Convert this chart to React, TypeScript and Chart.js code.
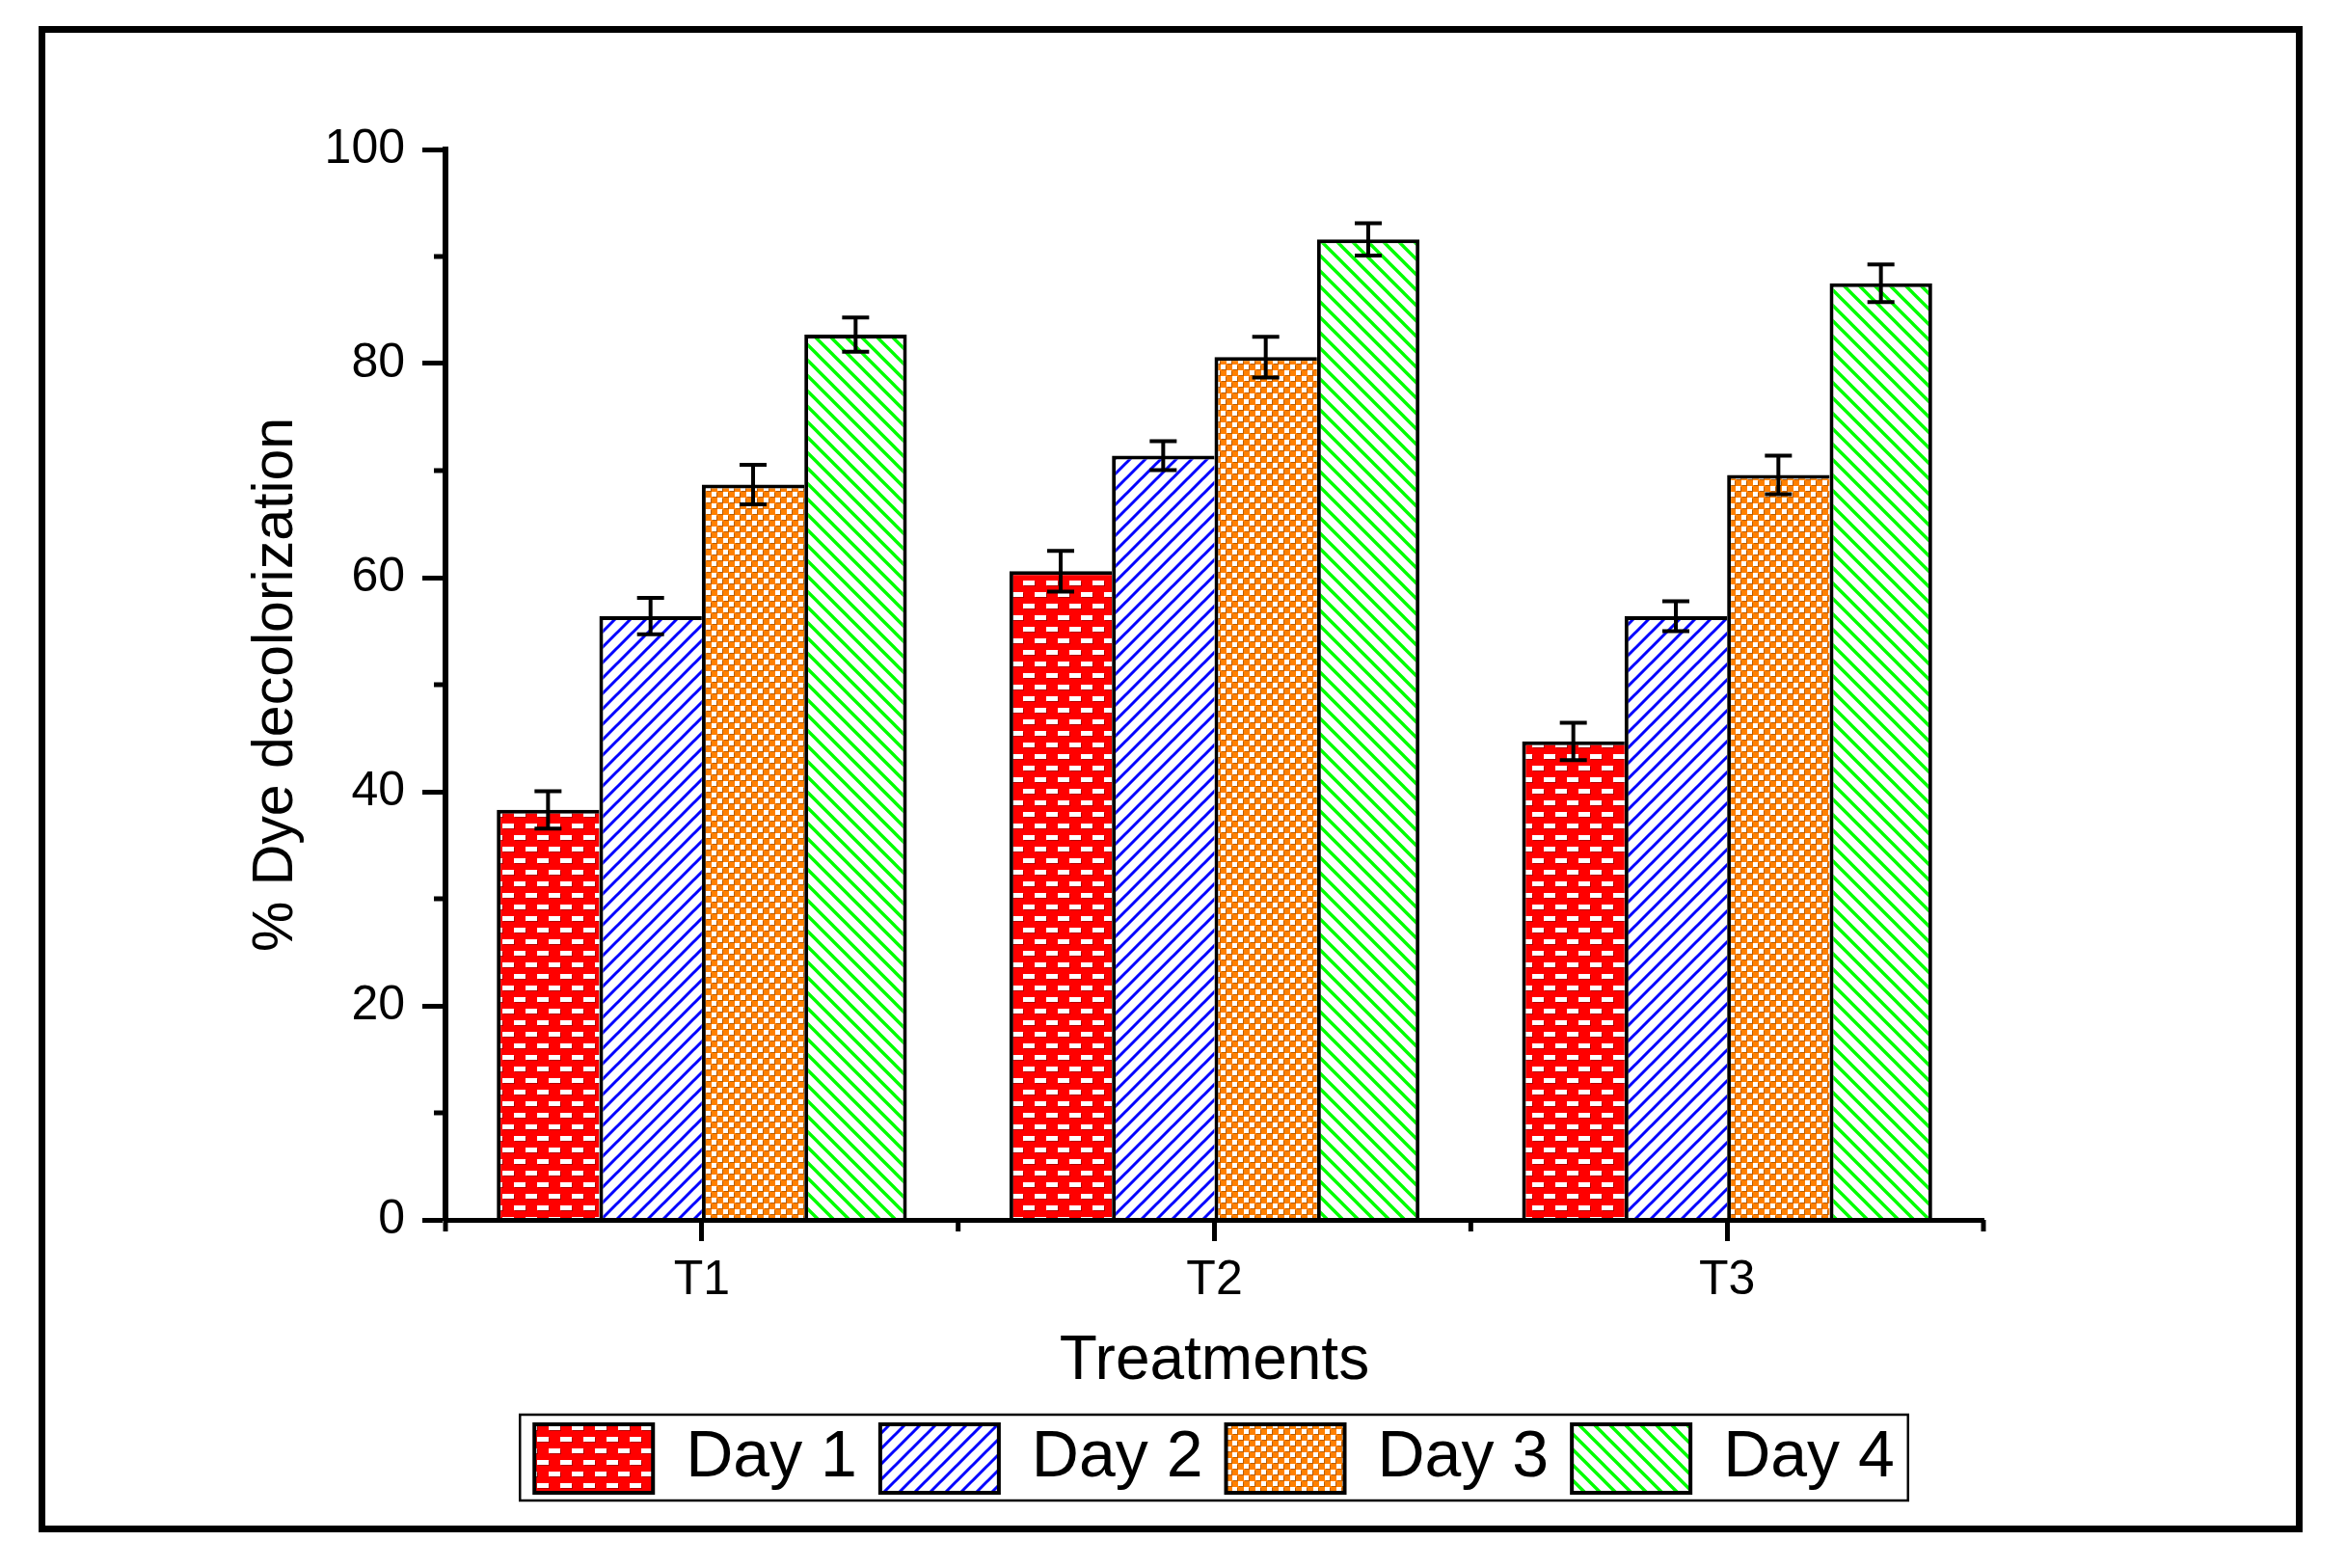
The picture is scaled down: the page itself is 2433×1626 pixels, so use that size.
import React, { useEffect, useRef } from 'react';
import { Chart, registerables } from 'chart.js';

Chart.register(...registerables);

const categories = ['T1', 'T2', 'T3'];
const seriesLabels = ['Day 1', 'Day 2', 'Day 3', 'Day 4'];
const day1 = [38.3, 60.6, 44.7];
const day2 = [56.4, 71.4, 56.4];
const day3 = [68.7, 80.6, 69.6];
const day4 = [82.7, 91.6, 87.5];
const err1 = [1.75, 1.9, 1.75];
const err2 = [1.7, 1.35, 1.4];
const err3 = [1.85, 1.9, 1.8];
const err4 = [1.6, 1.5, 1.75];
const yMin = 0;
const yMax = 100;
const yMajorStep = 20;
const yMinorValues = [10, 30, 50, 70, 90];

const FONT = "'Liberation Sans', Arial, Helvetica, sans-serif";

function makePattern(kind: string): CanvasPattern | string {
  const c = document.createElement('canvas');
  const g = c.getContext('2d');
  if (!g) return '#888';
  if (kind === 'brick') {
    c.width = 24; c.height = 24;
    g.fillStyle = '#FF0000';
    g.fillRect(0, 0, 24, 24);
    const dash = (x: number, y: number) => {
      g.fillStyle = '#B00000';
      g.fillRect(x + 1, y + 1, 12, 5);
      g.fillStyle = '#FFFFFF';
      g.fillRect(x, y, 12, 5);
    };
    dash(5, 2); dash(17, 14); dash(-7, 14);
  } else if (kind === 'up' || kind === 'down') {
    c.width = 16; c.height = 16;
    g.fillStyle = '#FFFFFF';
    g.fillRect(0, 0, 16, 16);
    g.strokeStyle = kind === 'up' ? '#0000FF' : '#00FF00';
    g.lineWidth = kind === 'up' ? 3 : 3.4;
    g.beginPath();
    for (const k of [-16, 0, 16]) {
      if (kind === 'up') { g.moveTo(k - 2, 18); g.lineTo(k + 18, -2); }
      else { g.moveTo(k - 2, -2); g.lineTo(k + 18, 18); }
    }
    g.stroke();
  } else {
    c.width = 12; c.height = 12;
    g.fillStyle = '#FF8000';
    g.fillRect(0, 0, 12, 12);
    const sq = (x: number, y: number) => {
      g.fillStyle = '#B85C00';
      g.fillRect(x + 1, y + 1, 5, 5);
      g.fillStyle = '#FFFFFF';
      g.fillRect(x, y, 5, 5);
    };
    sq(0, 0); sq(6, 6);
  }
  return g.createPattern(c, 'repeat') || '#888';
}

const errorBarPlugin = {
  id: 'errorBars',
  afterDatasetsDraw(chart: any) {
    const ctx = chart.ctx;
    const y = chart.scales.y;
    ctx.save();
    ctx.strokeStyle = '#000';
    ctx.lineWidth = 4;
    chart.data.datasets.forEach((ds: any, di: number) => {
      const meta = chart.getDatasetMeta(di);
      meta.data.forEach((bar: any, i: number) => {
        const v = ds.data[i];
        const e = ds.errors[i];
        const x = bar.x;
        const yt = y.getPixelForValue(v + e);
        const yb = y.getPixelForValue(v - e);
        const cap = 14;
        ctx.beginPath();
        ctx.moveTo(x, yt); ctx.lineTo(x, yb);
        ctx.moveTo(x - cap, yt); ctx.lineTo(x + cap, yt);
        ctx.moveTo(x - cap, yb); ctx.lineTo(x + cap, yb);
        ctx.stroke();
      });
    });
    ctx.restore();
  },
};

const decorPlugin = {
  id: 'decor',
  afterDraw(chart: any) {
    const { ctx, chartArea } = chart;
    const x = chart.scales.x;
    const y = chart.scales.y;
    ctx.save();
    ctx.strokeStyle = '#000';
    ctx.lineWidth = 5;
    yMinorValues.forEach((v) => {
      const py = y.getPixelForValue(v);
      ctx.beginPath();
      ctx.moveTo(chartArea.left - 12, py);
      ctx.lineTo(chartArea.left, py);
      ctx.stroke();
    });
    const bounds: number[] = [x.left];
    for (let i = 0; i < categories.length - 1; i++) {
      bounds.push((x.getPixelForValue(i) + x.getPixelForValue(i + 1)) / 2);
    }
    bounds.push(x.right);
    bounds.forEach((px) => {
      ctx.beginPath();
      ctx.moveTo(px, chartArea.bottom);
      ctx.lineTo(px, chartArea.bottom + 12);
      ctx.stroke();
    });
    // legend border
    const lg = chart.legend;
    if (lg && lg.legendHitBoxes && lg.legendHitBoxes.length) {
      const hb = lg.legendHitBoxes;
      const first = hb[0];
      const last = hb[hb.length - 1];
      const left = first.left - 15;
      const right = last.left + last.width + 14;
      const top = first.top - 10;
      const bottom = first.top + first.height + 8;
      ctx.lineWidth = 2.5;
      ctx.strokeRect(left, top, right - left, bottom - top);
    }
    ctx.restore();
  },
};

export default function App() {
  const ref = useRef<HTMLCanvasElement | null>(null);

  useEffect(() => {
    if (!ref.current) return;
    Chart.defaults.font.family = FONT;
    Chart.defaults.color = '#000';
    const fills = [makePattern('brick'), makePattern('up'), makePattern('check'), makePattern('down')];
    const values = [day1, day2, day3, day4];
    const errs = [err1, err2, err3, err4];
    const datasets = seriesLabels.map((label, i) => ({
      label,
      data: values[i],
      errors: errs[i],
      backgroundColor: fills[i],
      borderColor: '#000',
      borderWidth: { top: 4, left: 4, right: i === seriesLabels.length - 1 ? 4 : 0, bottom: 0 },
      borderSkipped: false,
      categoryPercentage: 0.8,
      barPercentage: 1.0,
    }));

    const chart = new Chart(ref.current, {
      type: 'bar',
      data: { labels: categories, datasets: datasets as any },
      plugins: [errorBarPlugin, decorPlugin],
      options: {
        animation: false,
        responsive: false,
        devicePixelRatio: 1,
        layout: { padding: { left: 257.6, right: 376, top: 155, bottom: 68 } },
        plugins: {
          tooltip: { enabled: false },
          legend: {
            position: 'bottom',
            fullSize: false,
            labels: {
              boxWidth: 123,
              boxHeight: 71,
              padding: 24,
              color: '#000',
              font: { size: 68, family: FONT },
              generateLabels: (ch: any) =>
                (Chart.defaults.plugins.legend.labels as any)
                  .generateLabels(ch)
                  .map((l: any) => ({ ...l, lineWidth: 4, strokeStyle: '#000' })),
            },
          },
        },
        scales: {
          x: {
            type: 'category',
            offset: true,
            grid: { offset: false, drawOnChartArea: false, tickLength: 22, tickWidth: 5, tickColor: '#000' },
            border: { display: true, width: 5, color: '#000', z: 1 },
            ticks: { padding: 11, color: '#000', font: { size: 50, family: FONT } },
            title: {
              display: true,
              text: 'Treatments',
              color: '#000',
              font: { size: 64, family: FONT, lineHeight: 1 },
              padding: { top: 11, bottom: 9 },
            },
          },
          y: {
            type: 'linear',
            min: yMin,
            max: yMax,
            grid: { drawOnChartArea: false, tickLength: 24, tickWidth: 5, tickColor: '#000' },
            border: { display: true, width: 6, color: '#000', z: 1 },
            ticks: { stepSize: yMajorStep, padding: 18, color: '#000', font: { size: 50, family: FONT } },
            title: {
              display: true,
              text: '% Dye decolorization',
              color: '#000',
              font: { size: 59, family: FONT, lineHeight: 1 },
              padding: { top: 0, bottom: 2 },
            },
          },
        },
      } as any,
    });
    return () => chart.destroy();
  }, []);

  return (
    <div style={{ position: 'absolute', left: 0, top: 0, width: 2433, height: 1626, background: '#fff' }}>
      <canvas ref={ref} width={2433} height={1626} style={{ display: 'block', width: 2433, height: 1626 }} />
      <div
        style={{
          position: 'absolute',
          left: 40,
          top: 27,
          width: 2348,
          height: 1562,
          border: '7px solid #000',
          boxSizing: 'border-box',
          pointerEvents: 'none',
        }}
      />
    </div>
  );
}
